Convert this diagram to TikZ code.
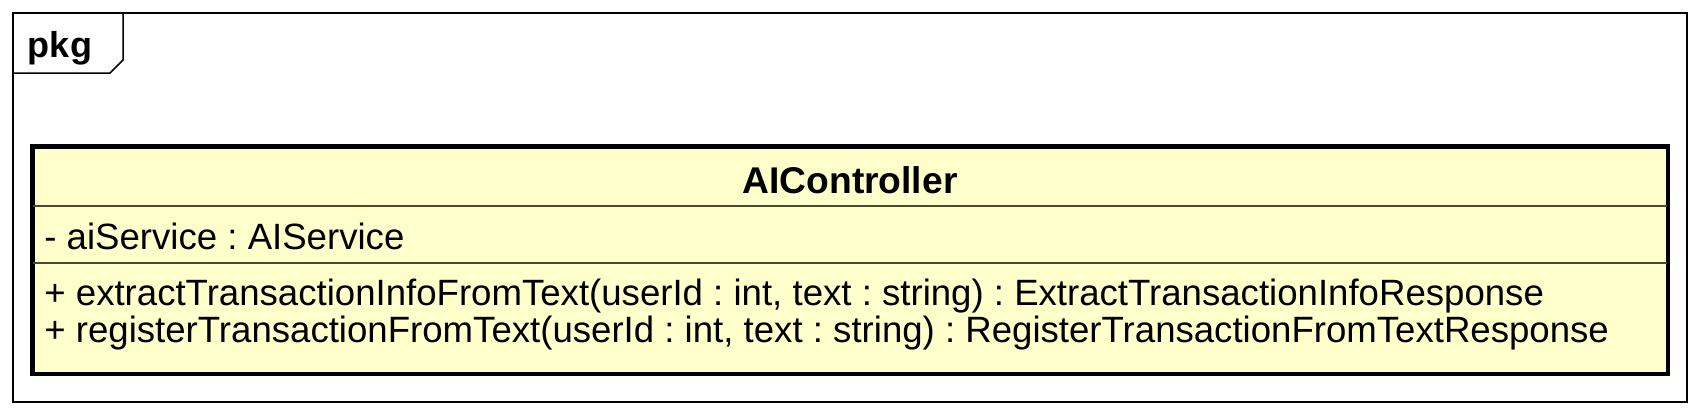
\documentclass[tikz,border=0pt]{standalone}
\usepackage{fontspec}
\setmainfont{Liberation Sans}
\usetikzlibrary{positioning}
\frenchspacing

\definecolor{classfill}{HTML}{FFFFCC}
\definecolor{sepcolor}{HTML}{4A4A30}

\begin{document}
\begin{tikzpicture}[x=0.5pt,y=-0.5pt,
frameline/.style={draw=black, line width=0.75pt},
classbox/.style={draw=black, line width=1.5pt, fill=classfill, rectangle, inner sep=0pt},
sepline/.style={draw=sepcolor, line width=0.7pt},
pkglabel/.style={anchor=base, inner sep=0pt, font=\fontsize{18}{21}\selectfont\bfseries},
classname/.style={anchor=base, inner sep=0pt, font=\fontsize{18.6}{22}\selectfont\bfseries},
member/.style={anchor=base west, inner sep=0pt, font=\fontsize{18.3}{22}\selectfont}]

\useasboundingbox (0,0) rectangle (1700,414);

% package frame and its tab
\draw[frameline] (13,13) rectangle (1687,402);
\draw[frameline] (13,73) -- (110,73) -- (123,60) -- (123,13);
\node[pkglabel] (pkg) at (60,57) {pkg};

% class box
\node[classbox, minimum width=817pt, minimum height=113pt] (aictrl) at (850,260) {};
\coordinate (hdrsep) at (33,206);
\coordinate (attrsep) at (33,263);
\draw[sepline] (hdrsep) -- (hdrsep -| aictrl.east);
\draw[sepline] (attrsep) -- (attrsep -| aictrl.east);
\draw[line width=1.5pt] (aictrl.north west) rectangle (aictrl.south east); %redraw border over separators

\node[classname] (ctrlname) at (850,193) {AIController};
\node[member] (svcattr) at (44,249) {- aiService : AIService};
\node[member] (extractop) at (44,305) {+ extractTransactionInfoFromText(userId : int, text : string) : ExtractTransactionInfoResponse};
\node[member] (registerop) at (44,342) {+ registerTransactionFromText(userId : int, text : string) : RegisterTransactionFromTextResponse};
\end{tikzpicture}
\end{document}
